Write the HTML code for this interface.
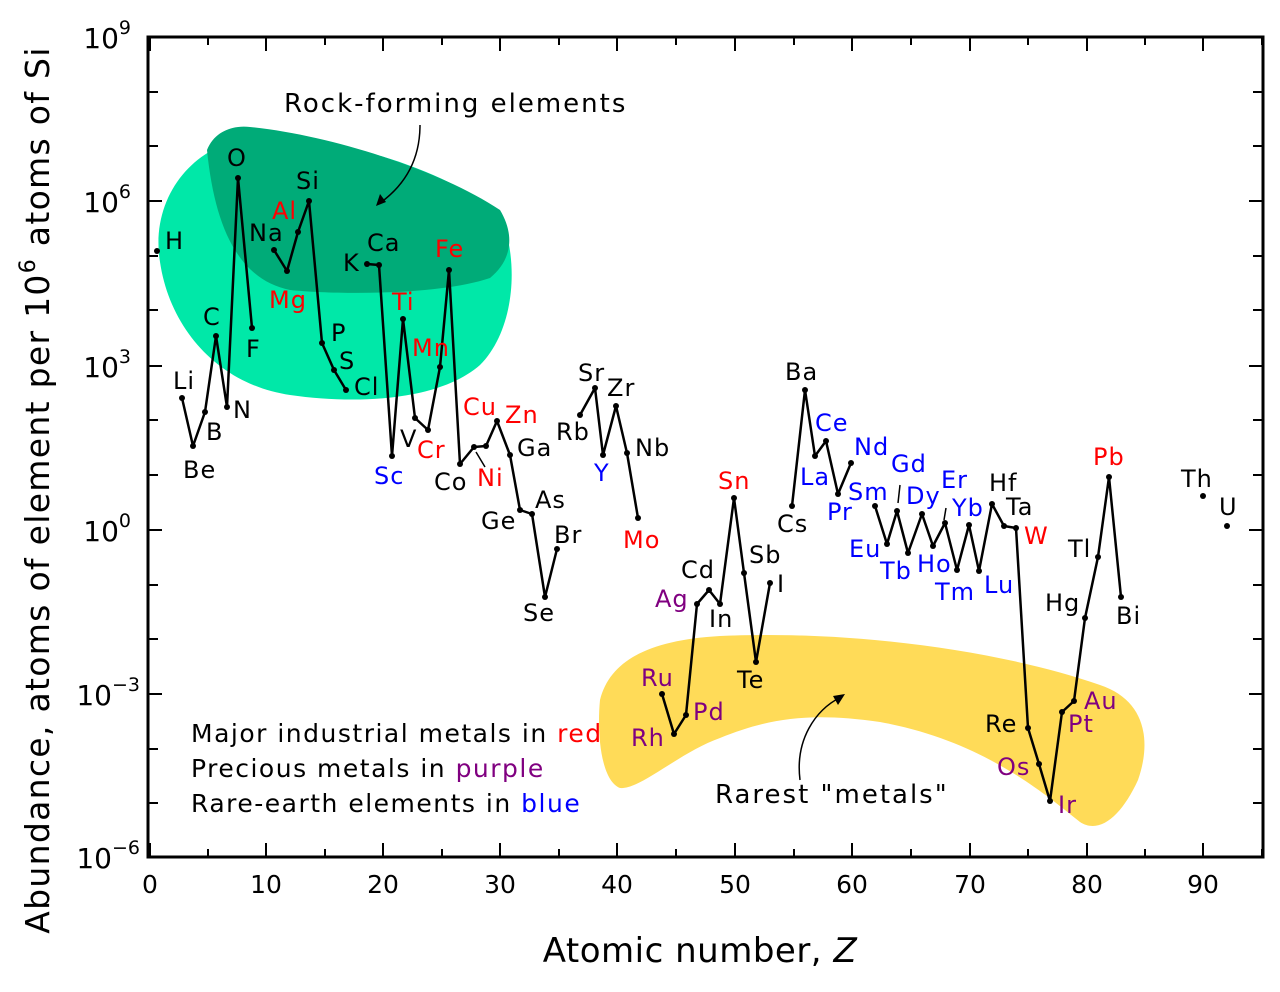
<!DOCTYPE html>
<html><head><meta charset="utf-8"><style>
html,body{margin:0;padding:0;background:#fff}
svg{display:block}
text{font-family:"DejaVu Sans","Liberation Sans",sans-serif}
.l{font-size:24px;fill:#000;letter-spacing:1px}
.r{fill:#f00}.p{fill:#800080}.b{fill:#00f}
</style></head><body>
<svg width="1280" height="992" viewBox="0 0 1280 992" xmlns="http://www.w3.org/2000/svg">
<rect width="1280" height="992" fill="#fff"/>
<path d="M160,262 C150,200 190,150 240,140 C320,128 450,170 500,215 C520,260 515,330 480,365 C440,400 360,405 290,395 C220,385 170,330 160,262 Z" fill="#00e8a8"/>
<path d="M207,150 C215,130 235,125 250,127 C330,135 440,170 500,210 C515,235 512,260 490,278 C440,295 340,295 290,290 C240,280 215,230 207,150 Z" fill="#00ab78"/>
<path d="M600,700 C610,660 650,640 720,636 C850,630 1000,650 1100,685 C1145,700 1152,740 1138,780 C1122,815 1100,835 1080,822 C1040,790 980,740 880,722 C810,712 770,718 720,738 C680,752 640,790 620,788 C600,780 597,730 600,700 Z" fill="#ffdb58"/>
<path d="M420,125 C420,160 405,185 380,203" fill="none" stroke="#000" stroke-width="1.5"/>
<path d="M376,206 L380,194 L386,202 Z" fill="#000"/>
<path d="M800,780 C795,740 815,710 841,697" fill="none" stroke="#000" stroke-width="1.5"/>
<path d="M845,694 L833,696 L838,705 Z" fill="#000"/>
<rect x="148" y="37" width="1115" height="820" fill="none" stroke="#000" stroke-width="3"/>
<g stroke="#000" stroke-width="2">
<path d="M148,37h14M148,92h10M148,146h10M148,201h14M148,256h10M148,310h10M148,366h14M148,420h10M148,475h10M148,530h14M148,585h10M148,639h10M148,694h14M148,749h10M148,803h10
M1263,37h-14M1263,92h-10M1263,146h-10M1263,201h-14M1263,256h-10M1263,310h-10M1263,366h-14M1263,420h-10M1263,475h-10M1263,530h-14M1263,585h-10M1263,639h-10M1263,694h-14M1263,749h-10M1263,803h-10"/>
<path d="M150,857v-14M208,857v-8M266,857v-14M325,857v-8M383,857v-14M442,857v-8M500,857v-14M559,857v-8M617,857v-14M676,857v-8M735,857v-14M794,857v-8M852,857v-14M911,857v-8M970,857v-14M1028,857v-8M1087,857v-14M1145,857v-8M1203,857v-14M1262,857v-8
M150,37v14M208,37v8M266,37v14M325,37v8M383,37v14M442,37v8M500,37v14M559,37v8M617,37v14M676,37v8M735,37v14M794,37v8M852,37v14M911,37v8M970,37v14M1028,37v8M1087,37v14M1145,37v8M1203,37v14M1262,37v8"/>
</g>
<g font-size="28" text-anchor="end">
<text x="131" y="48">10<tspan font-size="19" dy="-14">9</tspan></text>
<text x="131" y="212">10<tspan font-size="19" dy="-14">6</tspan></text>
<text x="131" y="377">10<tspan font-size="19" dy="-14">3</tspan></text>
<text x="131" y="541">10<tspan font-size="19" dy="-14">0</tspan></text>
<text x="140" y="705">10<tspan font-size="19" dy="-14">−3</tspan></text>
<text x="140" y="868">10<tspan font-size="19" dy="-14">−6</tspan></text>
</g>
<g font-size="25" text-anchor="middle">
<text x="150" y="893">0</text><text x="266" y="893">10</text><text x="383" y="893">20</text><text x="500" y="893">30</text><text x="617" y="893">40</text><text x="735" y="893">50</text><text x="852" y="893">60</text><text x="970" y="893">70</text><text x="1087" y="893">80</text><text x="1203" y="893">90</text>
</g>
<text x="700" y="962" font-size="34" text-anchor="middle" letter-spacing="0.5">Atomic number, <tspan font-style="italic">Z</tspan></text>
<text transform="translate(49,490) rotate(-90)" font-size="33" text-anchor="middle" letter-spacing="1.3">Abundance, atoms of element per 10<tspan font-size="22" dy="-14">6</tspan><tspan dy="14"> atoms of Si</tspan></text>
<g fill="none" stroke="#000" stroke-width="2.5" stroke-linejoin="round">
<polyline points="182,398 193,446 205,412 216,336 227,407 238,178 252,328"/>
<polyline points="274,250 287,271 298,232 309,201 322,343 334,370 346,390"/>
<polyline points="367,264 379,265 392,456 403,319 415,418 428,430 440,367 449,270 460,464 474,447 486,446 497,421 510,455 520,510 532,514 545,597 557,549"/>
<polyline points="580,415 595,388 603,455 616,406 627,453 638,518"/>
<polyline points="662,694 674,734 686,715 697,604 709,590 720,604 734,498 744,573 756,662 770,583"/>
<polyline points="792,506 805,390 815,456 826,441 838,494 851,463"/>
<polyline points="875,506 887,544 897,511 908,553 922,514 933,546 945,523 957,570 969,525 979,571 992,504 1004,526 1016,528 1028,728 1039,764 1050,801 1062,712 1074,701 1085,618 1098,557 1109,477 1121,597"/>
</g>
<g stroke="#000" stroke-width="1.5"><path d="M476,452L485,467M900,485L898,503M946,508L944,520"/></g>
<g fill="#000">
<circle cx="157" cy="251" r="3"/><circle cx="182" cy="398" r="3"/><circle cx="193" cy="446" r="3"/><circle cx="205" cy="412" r="3"/><circle cx="216" cy="336" r="3"/><circle cx="227" cy="407" r="3"/><circle cx="238" cy="178" r="3"/><circle cx="252" cy="328" r="3"/>
<circle cx="274" cy="250" r="3"/><circle cx="287" cy="271" r="3"/><circle cx="298" cy="232" r="3"/><circle cx="309" cy="201" r="3"/><circle cx="322" cy="343" r="3"/><circle cx="334" cy="370" r="3"/><circle cx="346" cy="390" r="3"/>
<circle cx="367" cy="264" r="3"/><circle cx="379" cy="265" r="3"/><circle cx="392" cy="456" r="3"/><circle cx="403" cy="319" r="3"/><circle cx="415" cy="418" r="3"/><circle cx="428" cy="430" r="3"/><circle cx="440" cy="367" r="3"/><circle cx="449" cy="270" r="3"/><circle cx="460" cy="464" r="3"/><circle cx="474" cy="447" r="3"/><circle cx="486" cy="446" r="3"/><circle cx="497" cy="421" r="3"/><circle cx="510" cy="455" r="3"/><circle cx="520" cy="510" r="3"/><circle cx="532" cy="514" r="3"/><circle cx="545" cy="597" r="3"/><circle cx="557" cy="549" r="3"/>
<circle cx="580" cy="415" r="3"/><circle cx="595" cy="388" r="3"/><circle cx="603" cy="455" r="3"/><circle cx="616" cy="406" r="3"/><circle cx="627" cy="453" r="3"/><circle cx="638" cy="518" r="3"/>
<circle cx="662" cy="694" r="3"/><circle cx="674" cy="734" r="3"/><circle cx="686" cy="715" r="3"/><circle cx="697" cy="604" r="3"/><circle cx="709" cy="590" r="3"/><circle cx="720" cy="604" r="3"/><circle cx="734" cy="498" r="3"/><circle cx="744" cy="573" r="3"/><circle cx="756" cy="662" r="3"/><circle cx="770" cy="583" r="3"/>
<circle cx="792" cy="506" r="3"/><circle cx="805" cy="390" r="3"/><circle cx="815" cy="456" r="3"/><circle cx="826" cy="441" r="3"/><circle cx="838" cy="494" r="3"/><circle cx="851" cy="463" r="3"/>
<circle cx="875" cy="506" r="3"/><circle cx="887" cy="544" r="3"/><circle cx="897" cy="511" r="3"/><circle cx="908" cy="553" r="3"/><circle cx="922" cy="514" r="3"/><circle cx="933" cy="546" r="3"/><circle cx="945" cy="523" r="3"/><circle cx="957" cy="570" r="3"/><circle cx="969" cy="525" r="3"/><circle cx="979" cy="571" r="3"/><circle cx="992" cy="504" r="3"/><circle cx="1004" cy="526" r="3"/><circle cx="1016" cy="528" r="3"/><circle cx="1028" cy="728" r="3"/><circle cx="1039" cy="764" r="3"/><circle cx="1050" cy="801" r="3"/><circle cx="1062" cy="712" r="3"/><circle cx="1074" cy="701" r="3"/><circle cx="1085" cy="618" r="3"/><circle cx="1098" cy="557" r="3"/><circle cx="1109" cy="477" r="3"/><circle cx="1121" cy="597" r="3"/>
<circle cx="1203" cy="496" r="3"/><circle cx="1227" cy="526" r="3"/>
</g>
<g class="l">
<text x="165" y="249">H</text><text x="173" y="389">Li</text><text x="183" y="478">Be</text><text x="206" y="440">B</text><text x="203" y="325">C</text><text x="233" y="418">N</text><text x="227" y="166">O</text><text x="246" y="357">F</text>
<text x="249" y="241">Na</text><text class="r" x="269" y="308">Mg</text><text class="r" x="272" y="219">Al</text><text x="296" y="189">Si</text><text x="331" y="341">P</text><text x="339" y="369">S</text><text x="354" y="395">Cl</text>
<text x="343" y="271">K</text><text x="367" y="251">Ca</text><text class="b" x="374" y="484">Sc</text><text class="r" x="392" y="310">Ti</text><text x="400" y="447">V</text><text class="r" x="417" y="458">Cr</text><text class="r" x="412" y="356">Mn</text><text class="r" x="435" y="257">Fe</text><text x="434" y="490">Co</text><text class="r" x="477" y="486">Ni</text><text class="r" x="463" y="415">Cu</text><text class="r" x="505" y="423">Zn</text><text x="517" y="456">Ga</text><text x="481" y="529">Ge</text><text x="535" y="508">As</text><text x="523" y="621">Se</text><text x="554" y="543">Br</text>
<text x="556" y="440">Rb</text><text x="578" y="381">Sr</text><text class="b" x="594" y="481">Y</text><text x="607" y="396">Zr</text><text x="635" y="456">Nb</text><text class="r" x="623" y="548">Mo</text>
<text class="p" x="641" y="686">Ru</text><text class="p" x="631" y="746">Rh</text><text class="p" x="693" y="720">Pd</text><text class="p" x="655" y="607">Ag</text><text x="681" y="578">Cd</text><text x="709" y="627">In</text><text class="r" x="718" y="489">Sn</text><text x="749" y="563">Sb</text><text x="737" y="688">Te</text><text x="777" y="592">I</text>
<text x="777" y="532">Cs</text><text x="785" y="380">Ba</text><text class="b" x="800" y="485">La</text><text class="b" x="815" y="431">Ce</text><text class="b" x="827" y="520">Pr</text><text class="b" x="854" y="455">Nd</text>
<text class="b" x="848" y="500">Sm</text><text class="b" x="849" y="557">Eu</text><text class="b" x="891" y="472">Gd</text><text class="b" x="880" y="579">Tb</text><text class="b" x="906" y="504">Dy</text><text class="b" x="917" y="572">Ho</text><text class="b" x="941" y="488">Er</text><text class="b" x="935" y="600">Tm</text><text class="b" x="952" y="516">Yb</text><text class="b" x="984" y="593">Lu</text><text x="989" y="491">Hf</text><text x="1006" y="515">Ta</text><text class="r" x="1024" y="544">W</text>
<text x="985" y="732">Re</text><text class="p" x="997" y="775">Os</text><text class="p" x="1058" y="813">Ir</text><text class="p" x="1068" y="732">Pt</text><text class="p" x="1084" y="709">Au</text><text x="1045" y="611">Hg</text><text x="1068" y="557">Tl</text><text class="r" x="1093" y="465">Pb</text><text x="1116" y="624">Bi</text>
<text x="1181" y="487">Th</text><text x="1219" y="515">U</text>
</g>
<text x="284" y="112" font-size="26" letter-spacing="2">Rock-forming elements</text>
<text x="715" y="803" font-size="26" letter-spacing="2">Rarest "metals"</text>
<g font-size="25" letter-spacing="1.5">
<text x="191" y="742">Major industrial metals in <tspan fill="#f00">red</tspan></text>
<text x="191" y="777">Precious metals in <tspan fill="#800080">purple</tspan></text>
<text x="191" y="812">Rare-earth elements in <tspan fill="#00f">blue</tspan></text>
</g>
</svg>
</body></html>
